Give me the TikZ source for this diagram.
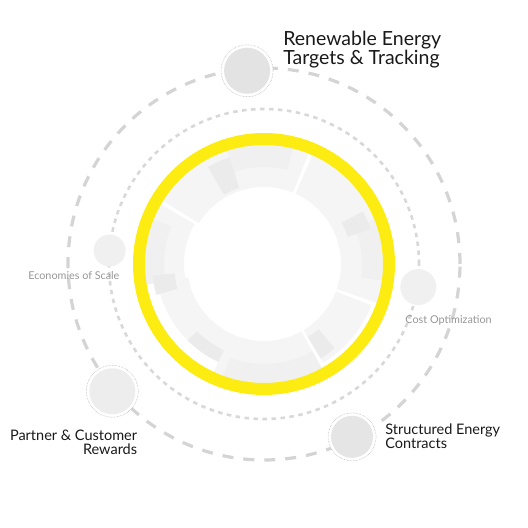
\documentclass[tikz,border=0pt]{standalone}
\usepackage{fontspec}
\setmainfont{Lato}
\usepackage{xcolor}
\usetikzlibrary{positioning}

\definecolor{ringyellow}{RGB}{252,236,18}
\definecolor{dashgray}{RGB}{212,212,212}
\definecolor{lblgray}{RGB}{150,150,150}
\definecolor{lbltext}{RGB}{25,25,25}

% annular sector: start, end, inner r, outer r, style
\newcommand{\ringseg}[5]{%
  \fill[#5] (#1:#4pt) arc[start angle=#1, end angle=#2, radius=#4pt]
    -- (#2:#3pt) arc[start angle=#2, end angle=#1, radius=#3pt] -- cycle;}

\begin{document}
\begin{tikzpicture}[
    x=1pt, y=1pt,
    segbase/.style={fill=gray!8},
    segband/.style={fill=gray!12},
    segdark/.style={fill=gray!16},
    bigdot/.style={circle, inner sep=0pt, minimum size=46pt},
    smalldot/.style={circle, inner sep=0pt, fill=gray!12},
    halo/.style={circle, draw=gray!70, densely dotted, line width=0.5pt, fill=white,
                 inner sep=0pt, minimum size=52pt},
    biglbl/.style={font=\fontsize{14.5}{13.5}\selectfont, text=lbltext, inner sep=0pt},
    toplbl/.style={font=\fontsize{19.5}{17.5}\selectfont, text=lbltext, inner sep=0pt, align=left},
    smalllbl/.style={font=\fontsize{10.8}{12}\selectfont, text=lblgray, inner sep=0pt},
]
\useasboundingbox (0,0) rectangle (528,528);

\coordinate (c) at (264,264);

% === Rings ===
\draw[dashgray, line width=3.2pt, dash pattern=on 11pt off 10pt] (c) circle[radius=196pt];
\draw[dashgray!90, line width=2.6pt, dash pattern=on 4.5pt off 4.5pt] (c) circle[radius=155pt];

% === Segmented core ===
\begin{scope}[shift={(c)}]
\ringseg{68}{148}{77}{121}{segbase}
\ringseg{150}{190}{80}{121}{segbase}
\ringseg{190}{245}{77}{108}{segbase}
\ringseg{245}{299}{77}{121}{segbase}
\ringseg{301}{339}{77}{115}{segbase}
\ringseg{-19}{66}{77}{121}{segbase}
\ringseg{76}{108}{97}{121}{segband}
\ringseg{158}{190}{100}{121}{segband}
\ringseg{250}{299}{100}{121}{segband}
\ringseg{-8}{22}{98}{121}{segband}
\ringseg{108}{120}{80}{112}{segdark}
\ringseg{186}{196}{90}{112}{segdark}
\ringseg{225}{245}{95}{108}{segdark}
\ringseg{301}{310}{85}{110}{segdark}
\ringseg{18}{28}{88}{112}{segdark}
\end{scope}
\draw[ringyellow, line width=12pt] (c) circle[radius=125pt];

% === Outer ring nodes ===
\node[halo] (tgth) at ([shift={(95:194pt)}]c) {};
\node[bigdot, fill=gray!22] (tgt) at (tgth) {};
\node[halo] (ptrh) at ([shift={(220:198pt)}]c) {};
\node[bigdot, fill=gray!14] (ptr) at (ptrh) {};
\node[halo, minimum size=48pt] (strh) at ([shift={(-63:194pt)}]c) {};
\node[bigdot, fill=gray!20, minimum size=42pt] (str) at (strh) {};

% === Inner ring nodes ===
\node[smalldot, minimum size=32pt] (eco) at ([shift={(175:155pt)}]c) {};
\node[smalldot, minimum size=36pt] (cost) at ([shift={(-8.5:156pt)}]c) {};

% === Labels ===
\node[toplbl, anchor=north west] (tgtlbl) at ([xshift=36pt, yshift=40pt]tgth.center)
    {Renewable Energy\\Targets \& Tracking};
\node[biglbl, align=right, anchor=north east] (ptrlbl) at ([xshift=25pt, yshift=-39pt]ptrh.center)
    {Partner \& Customer\\Rewards};
\node[biglbl, align=left, anchor=north west] (strlbl) at ([xshift=33pt, yshift=13pt]strh.center)
    {Structured Energy\\Contracts};
\node[smalllbl, anchor=north east] (ecolbl) at ([xshift=10pt, yshift=-21pt]eco.center) {Economies of Scale};
\node[smalllbl, anchor=north west] (costlbl) at ([xshift=-13pt, yshift=-28pt]cost.center) {Cost Optimization};

\end{tikzpicture}
\end{document}
